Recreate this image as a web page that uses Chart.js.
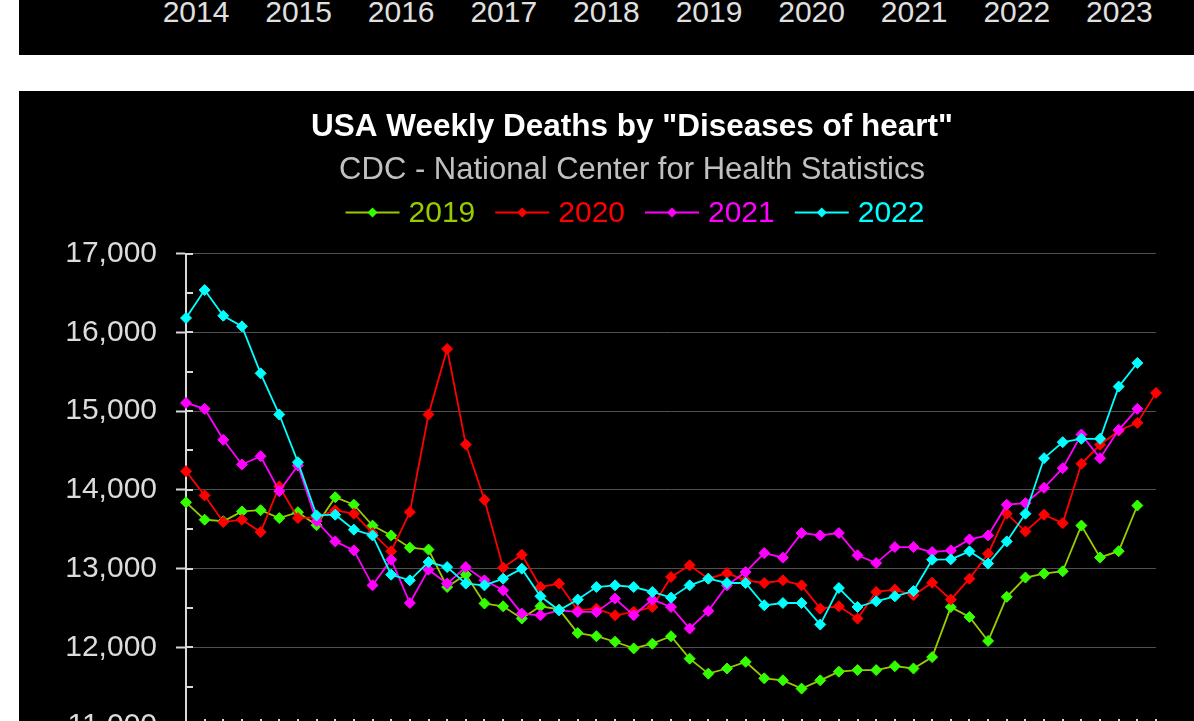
<!DOCTYPE html>
<html lang="en">
<head>
<meta charset="UTF-8">
<title>USA Weekly Deaths by "Diseases of heart"</title>
<script src="https://cdn.jsdelivr.net/npm/chart.js"></script>
<style>
  html, body { margin: 0; padding: 0; background: #fff; overflow: hidden; width: 1194px; height: 721px; }
  .strip { position: absolute; left: 19px; top: 0; width: 1226px; height: 55px; background: #000; }
  .strip span { position: absolute; top: -3px; font: 30px/30px 'Liberation Sans', Arial, sans-serif; color: #e0e0e0; transform: translateX(-50%); }
  .box { position: absolute; left: 19px; top: 91px; width: 1226px; height: 675px; background: #000; }
</style>
</head>
<body>
<div class="strip" id="strip"></div>
<div class="box"><canvas id="myChart" width="1226" height="675"></canvas></div>
<script>
  // bottom of the chart above (only its year axis shows)
  var stripYears = ['2014', '2015', '2016', '2017', '2018', '2019', '2020', '2021', '2022', '2023']

  // week numbers
  var weeks = [1, 2, 3, 4, 5, 6, 7, 8, 9, 10, 11, 12, 13, 14, 15, 16, 17, 18, 19, 20,
    21, 22, 23, 24, 25, 26, 27, 28, 29, 30, 31, 32, 33, 34, 35, 36, 37, 38, 39, 40,
    41, 42, 43, 44, 45, 46, 47, 48, 49, 50, 51, 52, 53]

  var seriesNames = ['2019', '2020', '2021', '2022']

  var deaths2019 = [13840, 13620, 13600, 13725, 13740, 13640, 13715, 13550, 13905, 13810,
    13545, 13420, 13265, 13240, 12765, 12925, 12555, 12520, 12365, 12520,
    12480, 12180, 12140, 12070, 11985, 12045, 12140, 11855, 11665, 11730,
    11815, 11605, 11580, 11475, 11580, 11690, 11710, 11710, 11760, 11730,
    11875, 12510, 12385, 12080, 12640, 12885, 12935, 12965, 13545, 13140,
    13220, 13800]

  var deaths2020 = [14236, 13928, 13590, 13620, 13462, 14042, 13640, 13650, 13737, 13696,
    13450, 13218, 13716, 14955, 15788, 14574, 13873, 13011, 13176, 12765,
    12808, 12469, 12490, 12406, 12450, 12511, 12892, 13040, 12871, 12942,
    12850, 12816, 12850, 12786, 12490, 12520, 12364, 12702, 12732, 12660,
    12820, 12605, 12871, 13188, 13696, 13471, 13683, 13576, 14330, 14571,
    14750, 14849, 15230]

  var deaths2021 = [15103, 15027, 14634, 14321, 14426, 13982, 14308, 13600, 13344, 13230,
    12786, 13112, 12562, 12985, 12808, 13018, 12850, 12723, 12427, 12406,
    12469, 12448, 12448, 12618, 12406, 12605, 12511, 12237, 12461, 12786,
    12955, 13196, 13138, 13450, 13420, 13450, 13167, 13069, 13272, 13272,
    13209, 13230, 13370, 13420, 13810, 13830, 14025, 14274, 14701, 14401,
    14761, 15027]

  var deaths2022 = [16181, 16536, 16210, 16075, 15478, 14955, 14350, 13674, 13683, 13493,
    13420, 12922, 12850, 13082, 13018, 12808, 12786, 12871, 12998, 12647,
    12469, 12605, 12765, 12786, 12765, 12702, 12630, 12786, 12871, 12816,
    12816, 12533, 12562, 12562, 12288, 12752, 12511, 12584, 12647, 12714,
    13112, 13116, 13218, 13062, 13344, 13696, 14401, 14604, 14647, 14647,
    15310, 15610]

  var yMin = 11000
  var yMax = 17000
  var yStep = 1000

  const FONT = "'Liberation Sans', Arial, sans-serif"

  // year labels of the strip on top
  var strip = document.getElementById('strip')
  stripYears.forEach((y, i) => {
    var s = document.createElement('span')
    s.textContent = y
    s.style.left = (177 + i * 102.6) + 'px'
    strip.appendChild(s)
  })

  function serie(label, data, lineColor, markColor, textColor, order) {
    return {
      label: label,
      data: data,
      borderColor: lineColor,
      backgroundColor: markColor,
      pointBackgroundColor: markColor,
      pointBorderColor: markColor,
      pointStyle: 'rectRot',
      pointRadius: 5.5,
      pointBorderWidth: 1,
      borderWidth: 1.8,
      tension: 0,
      legendText: textColor,
      order: order
    }
  }

  // legend drawn as "line - diamond - line  label"
  const lineLegend = {
    id: 'lineLegend',
    afterDraw(chart) {
      const ctx = chart.ctx
      const sets = chart.data.datasets
      ctx.save()
      ctx.font = '30px ' + FONT
      const lineW = 54, gap = 9, between = 20
      let total = 0
      sets.forEach((ds, i) => {
        total += lineW + gap + ctx.measureText(ds.label).width
        if (i) total += between
      })
      let x = chart.width / 2 - total / 2 + 3
      const y = chart.chartArea.top - 41
      ctx.textBaseline = 'middle'
      sets.forEach(ds => {
        ctx.strokeStyle = ds.borderColor
        ctx.lineWidth = 2
        ctx.beginPath()
        ctx.moveTo(x, y)
        ctx.lineTo(x + lineW, y)
        ctx.stroke()
        const cx = x + lineW / 2, r = 5
        ctx.fillStyle = ds.pointBackgroundColor
        ctx.beginPath()
        ctx.moveTo(cx, y - r)
        ctx.lineTo(cx + r, y)
        ctx.lineTo(cx, y + r)
        ctx.lineTo(cx - r, y)
        ctx.closePath()
        ctx.fill()
        ctx.fillStyle = ds.legendText
        ctx.fillText(ds.label, x + lineW + gap, y + 1)
        x += lineW + gap + ctx.measureText(ds.label).width + between
      })
      ctx.restore()
    }
  }

  // small ticks on the inner side of both axes
  const innerTicks = {
    id: 'innerTicks',
    beforeDatasetsDraw(chart) {
      const ctx = chart.ctx
      const area = chart.chartArea
      const ys = chart.scales.y
      const xs = chart.scales.x
      ctx.save()
      ctx.strokeStyle = '#d8d8d8'
      ctx.lineWidth = 2
      ctx.beginPath()
      for (let v = ys.min; v <= ys.max; v += yStep / 2) {
        const py = Math.round(ys.getPixelForValue(v))
        ctx.moveTo(area.left, py)
        ctx.lineTo(area.left + 7, py)
      }
      for (let i = 0; i < xs.ticks.length; i++) {
        const px = Math.round(xs.getPixelForTick(i))
        ctx.moveTo(px, area.bottom)
        ctx.lineTo(px, area.bottom - 7)
      }
      ctx.stroke()
      ctx.restore()
    }
  }

  const ctx = document.getElementById('myChart')

  new Chart(ctx, {
    type: 'line',
    data: {
      labels: weeks,
      datasets: [
        serie(seriesNames[0], deaths2019, '#99cc00', '#33ff00', '#99cc00', 4),
        serie(seriesNames[1], deaths2020, '#ff0000', '#ff0000', '#ff0000', 3),
        serie(seriesNames[2], deaths2021, '#ff00ff', '#ff00ff', '#ff00ff', 2),
        serie(seriesNames[3], deaths2022, '#00ffff', '#00ffff', '#00ffff', 1)
      ]
    },
    options: {
      responsive: false,
      animation: false,
      layout: { padding: 0 },
      plugins: {
        legend: { display: false },
        tooltip: { enabled: false },
        title: {
          display: true,
          text: 'USA Weekly Deaths by "Diseases of heart"',
          color: '#ffffff',
          font: { family: FONT, size: 31.5, weight: 'bold', lineHeight: 1.2 },
          padding: { top: 17.1, bottom: 0 }
        },
        subtitle: {
          display: true,
          text: 'CDC - National Center for Health Statistics',
          color: '#c0c0c0',
          font: { family: FONT, size: 31, weight: 'normal', lineHeight: 1.2 },
          padding: { top: 5.6, bottom: 64.8 }
        }
      },
      scales: {
        x: {
          type: 'category',
          offset: false,
          grid: { display: false, drawTicks: false },
          border: { display: true, color: '#d8d8d8', width: 2 },
          ticks: { display: false },
          afterFit(scale) { scale.height = 40 }
        },
        y: {
          min: yMin,
          max: yMax,
          ticks: {
            stepSize: yStep,
            color: '#dcdcdc',
            padding: 19,
            font: { family: FONT, size: 30 },
            callback: (v) => Number(v).toLocaleString('en-US')
          },
          grid: {
            color: '#505050',
            lineWidth: 1,
            tickLength: 10,
            tickColor: '#d8d8d8',
            tickWidth: 2
          },
          border: { display: true, color: '#d8d8d8', width: 2 },
          afterFit(scale) { scale.width = 167 }
        },
        // empty right margin of the chart box
        yRight: {
          position: 'right',
          min: yMin,
          max: yMax,
          grid: { display: false },
          border: { display: false },
          ticks: { display: false },
          afterFit(scale) { scale.width = 89 }
        }
      }
    },
    plugins: [innerTicks, lineLegend]
  })
</script>
</body>
</html>
